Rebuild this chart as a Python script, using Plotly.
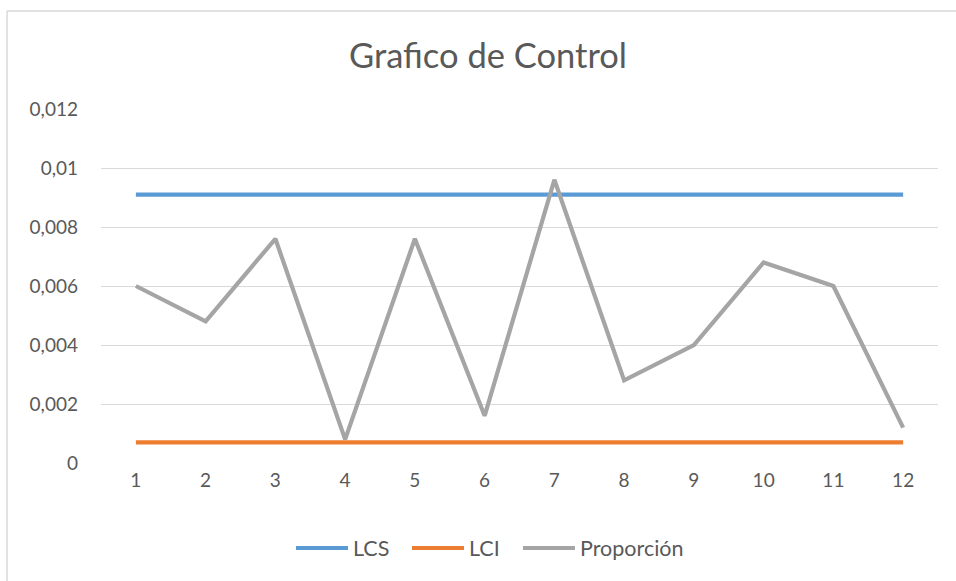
import plotly.graph_objects as go

# Control chart data: samples 1..12
muestras = [1, 2, 3, 4, 5, 6, 7, 8, 9, 10, 11, 12]
lcs = [0.0091] * 12
lci = [0.0007] * 12
proporcion = [0.0060, 0.0048, 0.0076, 0.0008, 0.0076, 0.0016,
              0.0096, 0.0028, 0.0040, 0.0068, 0.0060, 0.0012]
y_ticks = [0, 0.002, 0.004, 0.006, 0.008, 0.01, 0.012]
y_tick_text = ["0", "0,002", "0,004", "0,006", "0,008", "0,01", "0,012"]

W, H = 956, 581
L, R, T, B = 101, 18, 109, 118
FONT = "Lato, 'Open Sans', sans-serif"
TXT = "#595959"

fig = go.Figure()
series = [("LCS", lcs, "#5B9BD5"), ("LCI", lci, "#ED7D31"),
          ("Proporción", proporcion, "#A5A5A5")]
for name, vals, col in series:
    fig.add_trace(go.Scatter(x=muestras, y=vals, name=name, mode="lines",
                             line=dict(color=col, width=4.2),
                             showlegend=False))

pw = W - L - R
ph = H - T - B
def px_x(p):
    return (p - L) / pw
def px_y(p):
    return (H - B - p) / ph

# chart frame (left and top edges)
fig.add_shape(type="line", xref="paper", yref="paper",
              x0=px_x(7), x1=px_x(960), y0=px_y(11), y1=px_y(11),
              line=dict(color="#D9D9D9", width=1.5))
fig.add_shape(type="line", xref="paper", yref="paper",
              x0=px_x(7), x1=px_x(7), y0=px_y(11), y1=px_y(585),
              line=dict(color="#D9D9D9", width=1.5))

# legend row at the bottom: key line + label per series
legend_y = px_y(548)
legend_x = [294, 410, 521]
for (name, _, col), lx in zip(series, legend_x):
    fig.add_shape(type="line", xref="paper", yref="paper",
                  x0=px_x(lx + 2), x1=px_x(lx + 54), y0=legend_y, y1=legend_y,
                  line=dict(color=col, width=4.2))
    fig.add_annotation(xref="paper", yref="paper", x=px_x(lx + 57),
                       y=legend_y, text=name, showarrow=False,
                       xanchor="left", yanchor="middle",
                       font=dict(size=21.5, color=TXT, family=FONT))

fig.update_layout(
    width=W, height=H,
    margin=dict(l=L, r=R, t=T, b=B),
    paper_bgcolor="white", plot_bgcolor="white",
    font=dict(family=FONT, color=TXT, size=19),
    title=dict(text="Grafico de Control", x=488 / W, xanchor="center",
               y=1 - 56 / H, yanchor="middle",
               font=dict(size=34.5, color=TXT, family=FONT)),
    xaxis=dict(range=[0.5, 12.5], tickmode="array", tickvals=muestras,
               ticktext=[str(m) for m in muestras], showgrid=False,
               zeroline=False, showline=False, ticks="",
               ticklabelstandoff=4,
               tickfont=dict(size=19, color=TXT)),
    yaxis=dict(range=[0, 0.012], tickmode="array", tickvals=y_ticks,
               ticktext=y_tick_text, showgrid=True, gridcolor="#D9D9D9",
               gridwidth=1.2, zeroline=False, showline=False, ticks="",
               ticklabelstandoff=22, tickfont=dict(size=19, color=TXT)),
    showlegend=False,
)

fig.write_html("out.html")
